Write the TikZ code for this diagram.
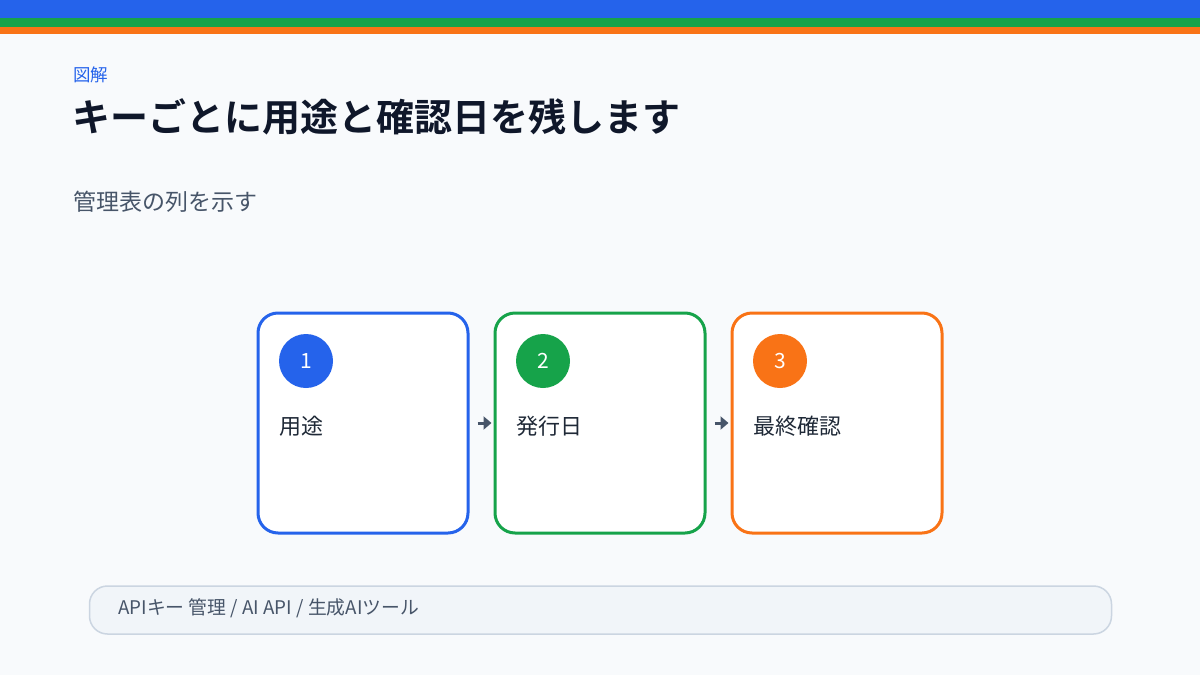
\documentclass[tikz,border=0pt]{standalone}
\usepackage{fontspec}
\setmainfont{Noto Sans CJK JP}[BoldFont={Noto Sans CJK JP Bold}]
\usetikzlibrary{arrows.meta}
\definecolor{bg}{HTML}{F8FAFC}
\definecolor{cblue}{HTML}{2563EB}
\definecolor{cgreen}{HTML}{16A34A}
\definecolor{corange}{HTML}{F97316}
\definecolor{ink}{HTML}{0F172A}
\definecolor{txt}{HTML}{1F2937}
\definecolor{muted}{HTML}{475569}
\definecolor{barfill}{HTML}{F1F5F9}
\definecolor{barline}{HTML}{CBD5E1}
\tikzset{
  card/.style={draw=#1, line width=3pt, fill=white, rounded corners=20pt, minimum width=210pt, minimum height=220pt, inner sep=0pt},
  badge/.style={circle, fill=#1, minimum size=54pt, inner sep=0pt, text=white, font=\fontsize{21}{24}\selectfont},
  lbl/.style={anchor=west, text=txt, font=\fontsize{22}{24}\selectfont, inner sep=0pt},
  flow/.style={draw=muted, line width=3pt, -{Triangle[length=8pt,width=13pt]}}
}
\begin{document}
\begin{tikzpicture}[x=1pt,y=-1pt]
\useasboundingbox (0,0) rectangle (1200,675);
\fill[bg] (0,0) rectangle (1200,675);
\fill[cblue] (0,0) rectangle (1200,18);
\fill[cgreen] (0,18) rectangle (1200,27);
\fill[corange] (0,27) rectangle (1200,34);
\node[anchor=west, inner sep=0pt, text=cblue, font=\fontsize{17.5}{20}\selectfont] (kicker) at (73,75) {図解};
\node[anchor=west, inner sep=0pt, text=ink, font=\fontsize{38}{44}\selectfont\bfseries] (title) at (72,117) {キーごとに用途と確認日を残します};
\node[anchor=west, inner sep=0pt, text=muted, font=\fontsize{23}{26}\selectfont] (sub) at (73,202) {管理表の列を示す};
\node[card=cblue] (c1) at (363,423) {};
\node[card=cgreen] (c2) at (600,423) {};
\node[card=corange] (c3) at (837,423) {};
\node[badge=cblue] (b1) at (306,361) {1};
\node[badge=cgreen] (b2) at (543,361) {2};
\node[badge=corange] (b3) at (780,361) {3};
\node[lbl] (l1) at (279,426) {用途};
\node[lbl] (l2) at (516,426) {発行日};
\node[lbl] (l3) at (753,426) {最終確認};
\draw[flow] ([xshift=8pt]c1.east) -- ([xshift=-2pt]c2.west);
\draw[flow] ([xshift=8pt]c2.east) -- ([xshift=-2pt]c3.west);
\node[draw=barline, line width=1.5pt, fill=barfill, rounded corners=18pt, minimum width=1022pt, minimum height=48pt, inner sep=0pt] (bar) at (600.5,610) {};
\node[anchor=west, inner sep=0pt, text=muted, font=\fontsize{18.8}{22}\selectfont] (foot) at (118,608) {APIキー 管理 / AI API / 生成AIツール};
\end{tikzpicture}
\end{document}
